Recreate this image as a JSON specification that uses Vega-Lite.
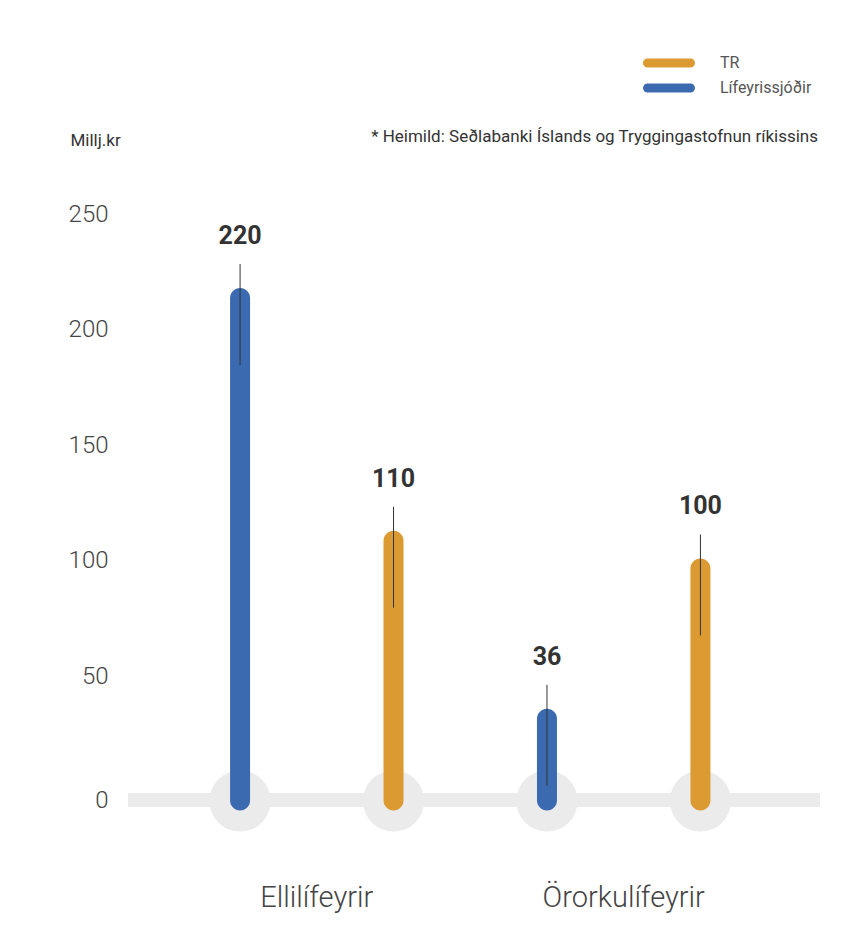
{
  "$schema": "https://vega.github.io/schema/vega-lite/v6.json",
  "width": 692,
  "height": 578,
  "autosize": {"type": "none"},
  "padding": {"left": 128, "top": 214, "right": 28, "bottom": 157},
  "background": "white",
  "config": {"view": {"stroke": null}, "font": "Roboto"},
  "title": {
    "text": "* Heimild: Seðlabanki Íslands og Tryggingastofnun ríkissins",
    "anchor": "end",
    "frame": "group",
    "dx": -2,
    "offset": -96,
    "fontSize": 17,
    "fontWeight": "normal",
    "color": "#333333"
  },
  "data": {
    "values": [
      {"group": "Ellilífeyrir", "series": "Lífeyrissjóðir", "value": 218, "label": "220"},
      {"group": "Ellilífeyrir", "series": "TR", "value": 113, "label": "110"},
      {"group": "Örorkulífeyrir", "series": "Lífeyrissjóðir", "value": 36, "label": "36"},
      {"group": "Örorkulífeyrir", "series": "TR", "value": 101, "label": "100"}
    ]
  },
  "layer": [
    {
      "mark": {"type": "rule", "strokeWidth": 14, "color": "#ebebeb", "yOffset": 8},
      "encoding": {
        "y": {"datum": 0, "type": "quantitative"}
      }
    },
    {
      "mark": {"type": "circle", "size": 3740, "color": "#ebebeb", "opacity": 1, "yOffset": 9},
      "encoding": {
        "x": {"field": "group", "type": "nominal", "sort": ["Ellilífeyrir", "Örorkulífeyrir"],
          "scale": {"paddingInner": 0, "paddingOuter": 0.1274, "align": 0.452},
          "axis": {"title": null, "domain": false, "ticks": false, "labelAngle": 0, "labelFontSize": 29, "labelFontWeight": 300, "labelColor": "#444444", "labelPadding": 91, "labelBaseline": "top"}},
        "xOffset": {"field": "series", "type": "nominal", "sort": ["Lífeyrissjóðir", "TR"], "scale": {"paddingInner": 0, "paddingOuter": 0}},
        "y": {"datum": 0, "type": "quantitative"}
      }
    },
    {
      "mark": {"type": "bar", "width": 20, "cornerRadius": 10, "y2Offset": 18.5},
      "encoding": {
        "x": {"field": "group", "type": "nominal", "sort": ["Ellilífeyrir", "Örorkulífeyrir"]},
        "xOffset": {"field": "series", "type": "nominal", "sort": ["Lífeyrissjóðir", "TR"]},
        "y": {"field": "value", "type": "quantitative",
          "scale": {"domain": [0, 250], "nice": false},
          "axis": {
            "title": "Millj.kr", "titleAngle": 0, "titleAlign": "left", "titleBaseline": "middle",
            "titleX": -58, "titleY": -74, "titleFontSize": 17, "titleFontWeight": "normal", "titleColor": "#333333",
            "values": [0, 50, 100, 150, 200, 250], "domain": false, "ticks": false,
            "labelFontSize": 24, "labelFontWeight": 300, "labelColor": "#444444", "labelPadding": 20,
            "gridColor": {"condition": {"test": "datum.value === 0", "value": "transparent"}, "value": "#e0e0e0"},
            "labelOffset": {"condition": {"test": "datum.value === 0", "value": 8}, "value": 0}
          }},
        "y2": {"datum": 0},
        "color": {"field": "series", "type": "nominal",
          "scale": {"domain": ["TR", "Lífeyrissjóðir"], "range": ["#dc9a32", "#3c6ab0"]},
          "legend": {
            "title": null, "orient": "none", "legendX": 528, "legendY": -164, "direction": "vertical",
            "symbolType": "M-1.654,-0.346 L1.654,-0.346 A0.346,0.346 0 0 1 1.654,0.346 L-1.654,0.346 A0.346,0.346 0 0 1 -1.654,-0.346 Z",
            "symbolSize": 676, "symbolStrokeWidth": 0, "symbolOpacity": 1,
            "labelFontSize": 16, "labelColor": "#555555", "labelOffset": 38, "rowPadding": 4, "padding": 0
          }}
      }
    },
    {
      "mark": {"type": "rule", "color": "#333333", "strokeWidth": 1, "yOffset": -24, "y2Offset": 77},
      "encoding": {
        "x": {"field": "group", "type": "nominal", "sort": ["Ellilífeyrir", "Örorkulífeyrir"]},
        "xOffset": {"field": "series", "type": "nominal", "sort": ["Lífeyrissjóðir", "TR"]},
        "y": {"field": "value", "type": "quantitative"},
        "y2": {"field": "value"}
      }
    },
    {
      "mark": {"type": "text", "dy": -52, "fontSize": 25, "fontWeight": "bold", "color": "#333333", "baseline": "middle"},
      "encoding": {
        "x": {"field": "group", "type": "nominal", "sort": ["Ellilífeyrir", "Örorkulífeyrir"]},
        "xOffset": {"field": "series", "type": "nominal", "sort": ["Lífeyrissjóðir", "TR"]},
        "y": {"field": "value", "type": "quantitative"},
        "text": {"field": "label"}
      }
    }
  ]
}
